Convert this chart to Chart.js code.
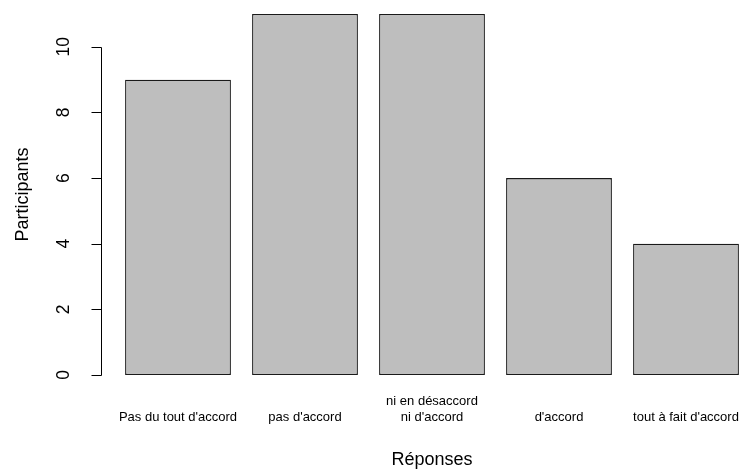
<!DOCTYPE html>
<html>
<head>
<meta charset="utf-8">
<script src="https://cdn.jsdelivr.net/npm/chart.js@4"></script>
<style>
  html, body { margin: 0; padding: 0; background: #ffffff; overflow: hidden; }
  #wrap { width: 742px; height: 471px; overflow: hidden; position: relative; background: #ffffff; }
  canvas { display: block; }
</style>
</head>
<body>
<div id="wrap"><canvas id="c" width="760" height="471"></canvas></div>
<script>
// ---- data ----
const categories = ["Pas du tout d'accord", "pas d'accord", "ni en désaccord\nni d'accord", "d'accord", "tout à fait d'accord"];
const participants = [9, 11, 11, 6, 4];
const yTickValues = [0, 2, 4, 6, 8, 10];
const xTitle = "Réponses";
const yTitle = "Participants";

const FONT = "'Liberation Sans', Arial, sans-serif";

// labels padded so single-line labels sit on the last line (as in R)
const labels = categories.map(c => {
  const parts = c.split("\n");
  while (parts.length < 2) parts.unshift("");
  return parts;
});

// R-style left axis: line from first to last tick, rotated labels
const rAxisPlugin = {
  id: 'rAxis',
  afterDraw(chart) {
    const ctx = chart.ctx;
    const x = chart.scales.x;
    const y = chart.scales.y;
    const meta = chart.getDatasetMeta(0);
    const bar0 = meta.data[0];
    const unit = (x.getPixelForValue(1) - x.getPixelForValue(0)) / 1.2;
    const barLeft = bar0.x - bar0.width / 2;
    const axisX = Math.round(barLeft - 0.232 * unit) + 0.5;
    const yTop = Math.round(y.getPixelForValue(yTickValues[yTickValues.length - 1])) + 0.5;
    const yBot = Math.round(y.getPixelForValue(yTickValues[0])) + 0.5;
    ctx.save();
    ctx.strokeStyle = '#000000';
    ctx.lineWidth = 1;
    ctx.beginPath();
    ctx.moveTo(axisX, yTop);
    ctx.lineTo(axisX, yBot);
    yTickValues.forEach(v => {
      const py = Math.round(y.getPixelForValue(v)) + 0.5;
      ctx.moveTo(axisX, py);
      ctx.lineTo(axisX - 10, py);
    });
    ctx.stroke();
    ctx.fillStyle = '#000000';
    ctx.font = '17.5px ' + FONT;
    ctx.textAlign = 'center';
    ctx.textBaseline = 'middle';
    yTickValues.forEach(v => {
      const py = y.getPixelForValue(v);
      ctx.save();
      ctx.translate(axisX - 37, py);
      ctx.rotate(-Math.PI / 2);
      ctx.fillText(String(v), 0, 0);
      ctx.restore();
    });
    ctx.restore();
  }
};

new Chart(document.getElementById('c'), {
  type: 'bar',
  data: {
    labels: labels,
    datasets: [{
      data: participants,
      backgroundColor: '#BEBEBE',
      borderColor: '#1a1a1a',
      borderWidth: 1.3,
      borderSkipped: false,
      categoryPercentage: 1.0,
      barPercentage: 1 / 1.2
    }]
  },
  options: {
    responsive: false,
    animation: false,
    devicePixelRatio: 1,
    layout: { padding: { top: 14, right: 10.5, bottom: 0, left: 0 } },
    plugins: {
      legend: { display: false },
      tooltip: { enabled: false },
      title: { display: false }
    },
    scales: {
      x: {
        grid: { display: false, drawTicks: false },
        border: { display: false },
        ticks: {
          color: '#000000',
          font: { family: FONT, size: 13, lineHeight: 1.25 },
          padding: 18,
          maxRotation: 0,
          minRotation: 0,
          autoSkip: false
        },
        title: {
          display: true,
          text: xTitle,
          color: '#000000',
          font: { family: FONT, size: 18 },
          padding: { top: 0, bottom: 0 }
        },
        afterFit(scale) { scale.height = 96; }
      },
      y: {
        min: 0,
        max: 11,
        grid: { display: false, drawTicks: false },
        border: { display: false },
        ticks: { display: false, stepSize: 2 },
        title: {
          display: true,
          text: yTitle,
          color: '#000000',
          font: { family: FONT, size: 18 },
          padding: { top: 12, bottom: 0 }
        },
        afterFit(scale) { scale.width = 114.5; }
      }
    }
  },
  plugins: [rAxisPlugin]
});
</script>
</body>
</html>
